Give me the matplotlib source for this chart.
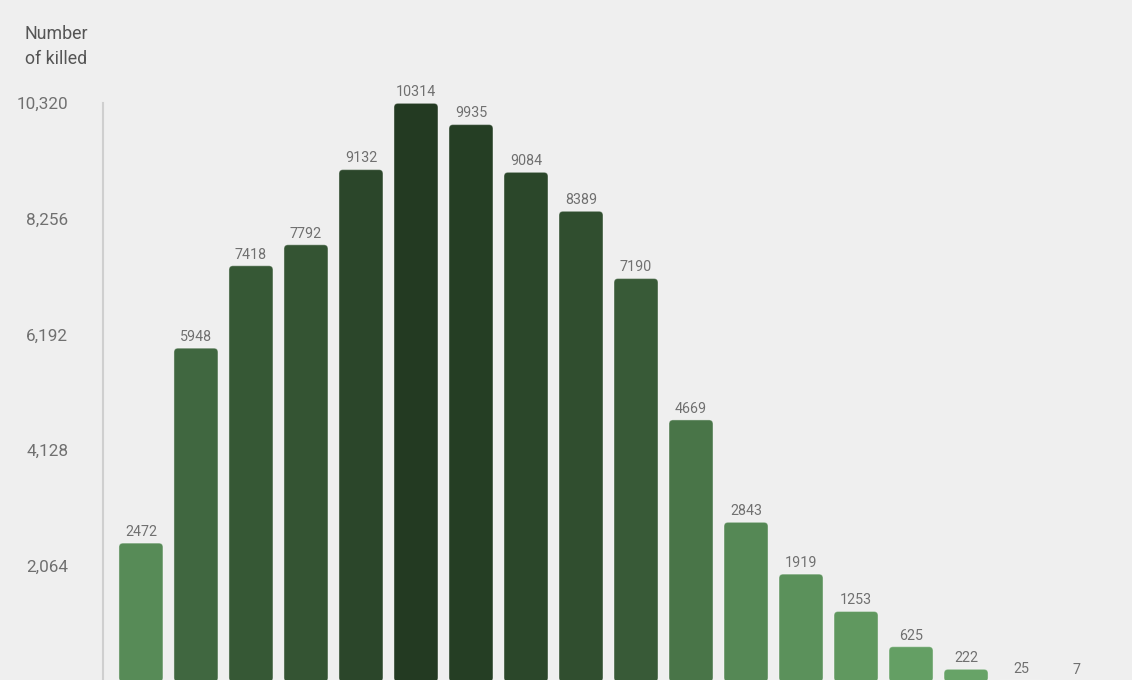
import numpy as np
import matplotlib.pyplot as plt
from matplotlib.patches import FancyBboxPatch
from matplotlib.colors import LinearSegmentedColormap

# killed per age group (left to right)
killed = [2472, 5948, 7418, 7792, 9132, 10314, 9935, 9084, 8389,
          7190, 4669, 2843, 1919, 1253, 625, 222, 25, 7]
y_ticks = [2064, 4128, 6192, 8256, 10320]

bg = '#efefef'
cmap = LinearSegmentedColormap.from_list('greens', ['#68a568', '#233a22'])

plt.rcParams['font.family'] = ['Roboto', 'DejaVu Sans']

W, H, dpi = 1132, 680, 100
fig = plt.figure(figsize=(W / dpi, H / dpi), dpi=dpi, facecolor=bg)

x = np.arange(len(killed))
x_lo, x_hi = -0.69, len(killed) - 1 + 0.69
y_lo, y_hi = 0, 10320

# axes bottom sits just under the picture edge
ax_left, ax_right = 103 / W, 1114 / W
ax_top, ax_bottom = 1 - 103 / H, -1.75 / H
ax = fig.add_axes([ax_left, ax_bottom, ax_right - ax_left, ax_top - ax_bottom])
ax.set_facecolor(bg)
ax.set_xlim(x_lo, x_hi)
ax.set_ylim(y_lo, y_hi)

# rounding that looks circular in pixels
px_x = (ax_right - ax_left) * W / (x_hi - x_lo)
px_y = (ax_top - ax_bottom) * H / (y_hi - y_lo)
aspect = px_x / px_y
r = 4 / px_x
width = 0.8
vmax = max(killed)

for xi, v in zip(x, killed):
    c = cmap(v / vmax)
    rr = min(r, (v / aspect) / 2) if v > 0 else 0
    p = FancyBboxPatch((xi - width / 2, 0), width, v,
                       boxstyle=f'round,pad=0,rounding_size={rr}',
                       mutation_aspect=aspect, facecolor=c,
                       edgecolor=(1, 1, 1, 0.35), linewidth=0.8, clip_on=False)
    ax.add_patch(p)
    ax.annotate(str(v), (xi, v), xytext=(0, 3), textcoords='offset points',
                ha='center', va='bottom', fontsize=10.3, color='#707070')

for s in ['top', 'right', 'bottom']:
    ax.spines[s].set_visible(False)
ax.spines['left'].set_color('#cfcfcf')
ax.spines['left'].set_linewidth(1.5)

ax.set_xticks([])
ax.set_yticks(y_ticks)
ax.set_yticklabels([f'{t:,}' for t in y_ticks])
ax.tick_params(axis='y', length=0, pad=25, labelsize=12.3, labelcolor='#707070')

fig.text(25 / W, 1 - 25 / H, 'Number\nof killed', ha='left', va='top',
         fontsize=12.8, color='#555555', linespacing=1.5)

fig.savefig('out.png', dpi=dpi, facecolor=bg)
